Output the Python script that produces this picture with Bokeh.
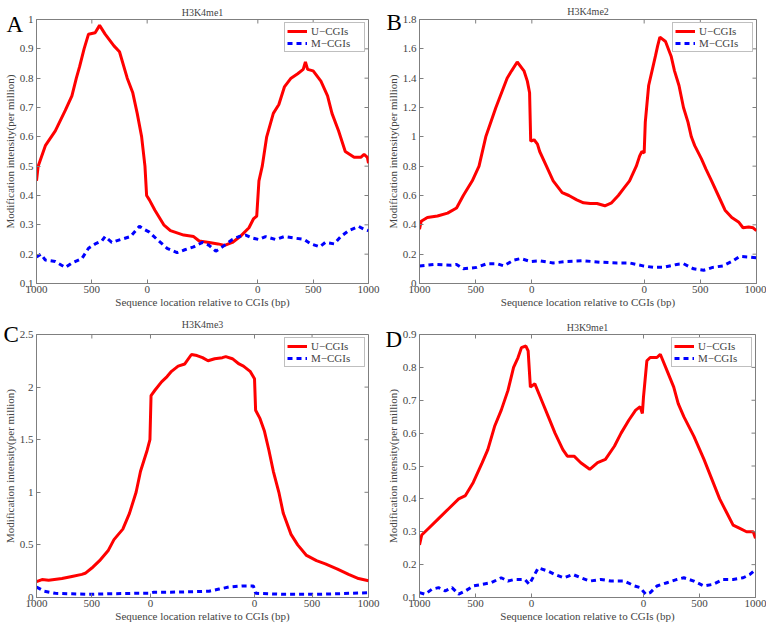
import math
from bokeh.plotting import figure
from bokeh.layouts import column, row
from bokeh.models import FixedTicker, Range1d, Title
from bokeh.embed import file_html
from bokeh.resources import INLINE

# ---------------- data (x in region units: 0-1 upstream, 1-2 CGI body, 2-3 downstream)
a_u_x = [0.00,0.015,0.08,0.17,0.26,0.32,0.36,0.39,0.43,0.47,0.53,0.57,0.62,0.70,0.75,0.82,0.87,0.91,0.95,0.98,0.995,1.02,1.07,1.15,1.21,1.33,1.42,1.47,1.56,1.64,1.70,1.77,1.84,1.92,1.96,1.99,2.01,2.04,2.08,2.14,2.19,2.24,2.30,2.36,2.41,2.43,2.45,2.50,2.57,2.63,2.67,2.73,2.79,2.87,2.93,2.96,2.99,3.00]
a_u_y = [0.45,0.50,0.57,0.62,0.69,0.74,0.80,0.84,0.90,0.95,0.955,0.98,0.95,0.91,0.89,0.80,0.75,0.68,0.60,0.50,0.40,0.385,0.35,0.30,0.28,0.265,0.26,0.245,0.24,0.235,0.23,0.24,0.26,0.29,0.32,0.33,0.45,0.50,0.60,0.68,0.71,0.77,0.80,0.815,0.83,0.855,0.83,0.825,0.79,0.74,0.68,0.62,0.55,0.53,0.53,0.54,0.53,0.51]
a_m_x = [0.00,0.04,0.08,0.17,0.26,0.32,0.41,0.47,0.53,0.59,0.62,0.68,0.76,0.85,0.93,0.97,1.02,1.09,1.18,1.27,1.34,1.42,1.50,1.56,1.62,1.68,1.77,1.83,1.89,1.95,2.01,2.07,2.16,2.24,2.33,2.42,2.48,2.56,2.61,2.69,2.75,2.82,2.91,2.96,3.00]
a_m_y = [0.19,0.20,0.18,0.175,0.155,0.17,0.185,0.22,0.235,0.245,0.26,0.24,0.25,0.26,0.295,0.285,0.275,0.25,0.22,0.205,0.215,0.225,0.24,0.23,0.21,0.225,0.25,0.26,0.265,0.255,0.25,0.26,0.25,0.26,0.255,0.25,0.235,0.225,0.24,0.235,0.26,0.28,0.295,0.285,0.28]

b_u_x = [0.00,0.015,0.07,0.16,0.25,0.33,0.39,0.47,0.53,0.59,0.68,0.78,0.82,0.87,0.93,0.96,0.98,0.99,1.02,1.05,1.07,1.13,1.19,1.27,1.33,1.40,1.46,1.52,1.58,1.65,1.71,1.77,1.82,1.87,1.93,1.96,1.98,2.00,2.01,2.04,2.07,2.10,2.12,2.14,2.19,2.24,2.27,2.31,2.35,2.39,2.42,2.45,2.51,2.55,2.60,2.66,2.72,2.78,2.84,2.88,2.93,2.97,3.00]
b_u_y = [0.37,0.425,0.45,0.46,0.48,0.515,0.60,0.70,0.80,1.00,1.20,1.40,1.45,1.51,1.45,1.38,1.30,0.97,0.98,0.95,0.90,0.80,0.70,0.62,0.60,0.57,0.55,0.545,0.545,0.53,0.55,0.60,0.65,0.70,0.80,0.87,0.90,0.89,1.10,1.35,1.45,1.55,1.62,1.68,1.65,1.55,1.45,1.35,1.20,1.10,1.00,0.94,0.85,0.78,0.70,0.60,0.50,0.45,0.42,0.38,0.385,0.38,0.36]
b_m_x = [0.00,0.13,0.28,0.33,0.39,0.51,0.60,0.69,0.75,0.84,0.90,0.99,1.07,1.19,1.31,1.46,1.61,1.76,1.87,1.99,2.08,2.17,2.29,2.35,2.44,2.53,2.61,2.70,2.78,2.85,2.94,3.00]
b_m_y = [0.12,0.13,0.125,0.13,0.10,0.11,0.135,0.135,0.12,0.16,0.17,0.15,0.155,0.14,0.15,0.155,0.145,0.14,0.14,0.12,0.11,0.11,0.13,0.135,0.10,0.09,0.11,0.12,0.15,0.185,0.18,0.175]

c_u_x = [0.00,0.05,0.11,0.23,0.32,0.41,0.44,0.50,0.57,0.65,0.70,0.78,0.84,0.90,0.94,1.00,1.025,1.035,1.07,1.13,1.18,1.22,1.28,1.34,1.40,1.45,1.50,1.55,1.61,1.68,1.71,1.77,1.83,1.87,1.93,1.97,1.98,2.02,2.06,2.10,2.14,2.19,2.23,2.30,2.36,2.44,2.53,2.61,2.72,2.82,2.91,3.00]
c_u_y = [0.15,0.17,0.165,0.18,0.20,0.22,0.23,0.28,0.35,0.45,0.55,0.65,0.80,1.00,1.20,1.40,1.50,1.92,1.97,2.05,2.10,2.15,2.20,2.22,2.31,2.30,2.28,2.25,2.27,2.28,2.29,2.27,2.22,2.20,2.15,2.08,1.78,1.70,1.58,1.40,1.20,1.00,0.80,0.60,0.50,0.40,0.35,0.32,0.27,0.22,0.18,0.16]
c_m_x = [0.00,0.07,0.17,0.32,0.47,0.62,0.91,1.02,1.06,1.21,1.39,1.56,1.65,1.74,1.86,1.96,1.98,2.10,2.24,2.39,2.54,2.69,2.84,3.00]
c_m_y = [0.10,0.06,0.04,0.035,0.03,0.035,0.04,0.04,0.05,0.05,0.055,0.06,0.08,0.10,0.11,0.11,0.04,0.035,0.03,0.03,0.03,0.035,0.04,0.045]

d_u_x = [0.00,0.02,0.08,0.17,0.26,0.35,0.41,0.48,0.56,0.61,0.67,0.73,0.79,0.84,0.88,0.91,0.95,0.97,0.99,1.03,1.09,1.15,1.21,1.28,1.32,1.38,1.44,1.52,1.59,1.66,1.74,1.80,1.87,1.93,1.97,1.99,2.00,2.03,2.06,2.12,2.15,2.21,2.27,2.31,2.36,2.45,2.54,2.61,2.68,2.74,2.80,2.86,2.92,2.96,2.98,3.00]
d_u_y = [0.26,0.29,0.31,0.34,0.37,0.40,0.41,0.45,0.51,0.55,0.62,0.67,0.73,0.80,0.83,0.86,0.865,0.85,0.74,0.75,0.70,0.65,0.60,0.55,0.53,0.53,0.51,0.49,0.51,0.52,0.56,0.60,0.64,0.67,0.68,0.66,0.71,0.82,0.83,0.83,0.84,0.79,0.74,0.69,0.65,0.59,0.52,0.46,0.40,0.36,0.32,0.31,0.30,0.30,0.30,0.28]
d_m_x = [0.00,0.05,0.11,0.17,0.23,0.29,0.35,0.41,0.48,0.56,0.64,0.73,0.79,0.85,0.94,0.98,1.06,1.15,1.21,1.29,1.37,1.44,1.52,1.62,1.71,1.83,1.92,1.97,2.02,2.06,2.12,2.21,2.30,2.36,2.45,2.54,2.62,2.71,2.80,2.89,2.95,3.00]
d_m_y = [0.115,0.11,0.125,0.13,0.12,0.13,0.11,0.12,0.135,0.14,0.145,0.16,0.15,0.155,0.155,0.14,0.19,0.18,0.17,0.16,0.17,0.16,0.15,0.155,0.15,0.15,0.135,0.13,0.11,0.115,0.135,0.145,0.155,0.16,0.15,0.135,0.14,0.155,0.155,0.16,0.17,0.185]

x_tick_labels = ["1000", "500", "0", "0", "500", "1000"]
x_ticks_std = [0, 0.5, 1, 2, 2.5, 3]
x_ticks_c = [0, 0.5, 1.03, 1.97, 2.49, 3]

a_yticks = [0.1, 0.2, 0.3, 0.4, 0.5, 0.6, 0.7, 0.8, 0.9, 1.0]
a_ylabels = ["0.1", "0.2", "0.3", "0.4", "0.5", "0.6", "0.7", "0.8", "0.9", "1"]
b_yticks = [0, 0.2, 0.4, 0.6, 0.8, 1.0, 1.2, 1.4, 1.6, 1.8]
b_ylabels = ["0", "0.2", "0.4", "0.6", "0.8", "1", "1.2", "1.4", "1.6", "1.8"]
c_yticks = [0, 0.5, 1.0, 1.5, 2.0, 2.5]
c_ylabels = ["0", "0.5", "1", "1.5", "2", "2.5"]
d_yticks = [0.1, 0.2, 0.3, 0.4, 0.5, 0.6, 0.7, 0.8, 0.9]
d_ylabels = ["0.1", "0.2", "0.3", "0.4", "0.5", "0.6", "0.7", "0.8", "0.9"]

titles = ["H3K4me1", "H3K4me2", "H3K4me3", "H3K9me1"]
letters = ["A", "B", "C", "D"]
series_names = ["U\u2212CGIs", "M\u2212CGIs"]
x_axis_title = "Sequence location relative to CGIs (bp)"
y_axis_title = "Modification intensity(per million)"

FONT = "Liberation Serif"
GRAY = "#7f7f7f"


def panel(title, letter, ux, uy, mx, my, xticks, yticks, ylabels, w, h,
          borders, title_standoff, letter_dx, letter_standoff, title_off=0):
    assert len(ux) == len(uy) and len(mx) == len(my)
    bl, br, bt, bb = borders
    x0, x1 = xticks[0], xticks[-1]
    y0, y1 = yticks[0], yticks[-1]
    p = figure(width=w, height=h, x_range=Range1d(x0, x1),
               y_range=Range1d(y0, y1),
               output_backend="svg", toolbar_location=None,
               min_border_left=bl, min_border_right=br,
               min_border_top=bt, min_border_bottom=bb)
    p.line(ux, uy, color="#ff0000", line_width=3, legend_label=series_names[0])
    p.line(mx, my, color="#0000ff", line_width=3, line_dash="5 4",
           legend_label=series_names[1])

    # mirrored inward ticks on top and right edges
    p.ray(x=xticks, y=[y1] * len(xticks), length=4, length_units="screen",
          angle=-math.pi / 2, line_color=GRAY, line_width=1)
    p.ray(x=[x1] * len(yticks), y=yticks, length=4, length_units="screen",
          angle=math.pi, line_color=GRAY, line_width=1)

    p.grid.visible = False
    p.outline_line_color = GRAY
    p.outline_line_width = 1
    p.background_fill_color = "white"
    p.border_fill_color = "white"

    p.title.text = title
    p.title.text_font = FONT
    p.title.text_font_size = "10px"
    p.title.text_font_style = "normal"
    p.title.align = "center"
    p.title.standoff = title_standoff
    p.title.offset = title_off

    # panel letter: an outer title pulled down into the corner by a negative standoff
    p.add_layout(Title(text=letter, align="left", offset=letter_dx,
                       standoff=letter_standoff, vertical_align="bottom",
                       text_font=FONT, text_font_size="23px",
                       text_font_style="normal", text_color="black"), "above")

    xa = p.xaxis[0]
    xa.ticker = FixedTicker(ticks=xticks)
    xa.major_label_overrides = {t: l for t, l in zip(xticks, x_tick_labels)}
    xa.axis_label = x_axis_title
    ya = p.yaxis[0]
    ya.ticker = FixedTicker(ticks=yticks)
    ya.major_label_overrides = {t: l for t, l in zip(yticks, ylabels)}
    ya.axis_label = y_axis_title
    for ax in (xa, ya):
        ax.axis_label_text_font = FONT
        ax.axis_label_text_font_size = "11px"
        ax.axis_label_text_font_style = "normal"
        ax.major_label_text_font = FONT
        ax.major_label_text_font_size = "11px"
        ax.major_tick_in = 4
        ax.major_tick_out = 0
        ax.minor_tick_line_color = None
        ax.axis_line_color = GRAY
        ax.major_tick_line_color = GRAY
    xa.major_label_standoff = 2
    xa.axis_label_standoff = 0
    ya.major_label_standoff = 3
    ya.axis_label_standoff = 1

    lg = p.legend[0]
    lg.location = "top_right"
    lg.label_text_font = FONT
    lg.label_text_font_size = "11px"
    lg.border_line_color = GRAY
    lg.border_line_width = 1
    lg.background_fill_alpha = 1
    lg.padding = 2
    lg.spacing = 0
    lg.margin = 3
    lg.glyph_width = 20
    lg.glyph_height = 12
    lg.label_height = 12
    lg.label_width = 51
    lg.label_standoff = 4
    return p


pa = panel(titles[0], letters[0], a_u_x, a_u_y, a_m_x, a_m_y, x_ticks_std,
           a_yticks, a_ylabels, 383, 310, (31, 15, 15, 27), 3, -30, -34, -12)
pb = panel(titles[1], letters[1], b_u_x, b_u_y, b_m_x, b_m_y, x_ticks_std,
           b_yticks, b_ylabels, 383, 310, (36, 10, 19, 26), 5, -33, -31)
pc = panel(titles[2], letters[2], c_u_x, c_u_y, c_m_x, c_m_y, x_ticks_c,
           c_yticks, c_ylabels, 383, 317, (31, 15, 22, 30), 3, -33, -24)
pd = panel(titles[3], letters[3], d_u_x, d_u_y, d_m_x, d_m_y, x_ticks_std,
           d_yticks, d_ylabels, 383, 317, (34, 11, 24, 26), 4, -34, -35)

layout = column(row(pa, pb), row(pc, pd))

with open("out.html", "w") as f:
    f.write(file_html(layout, INLINE))
